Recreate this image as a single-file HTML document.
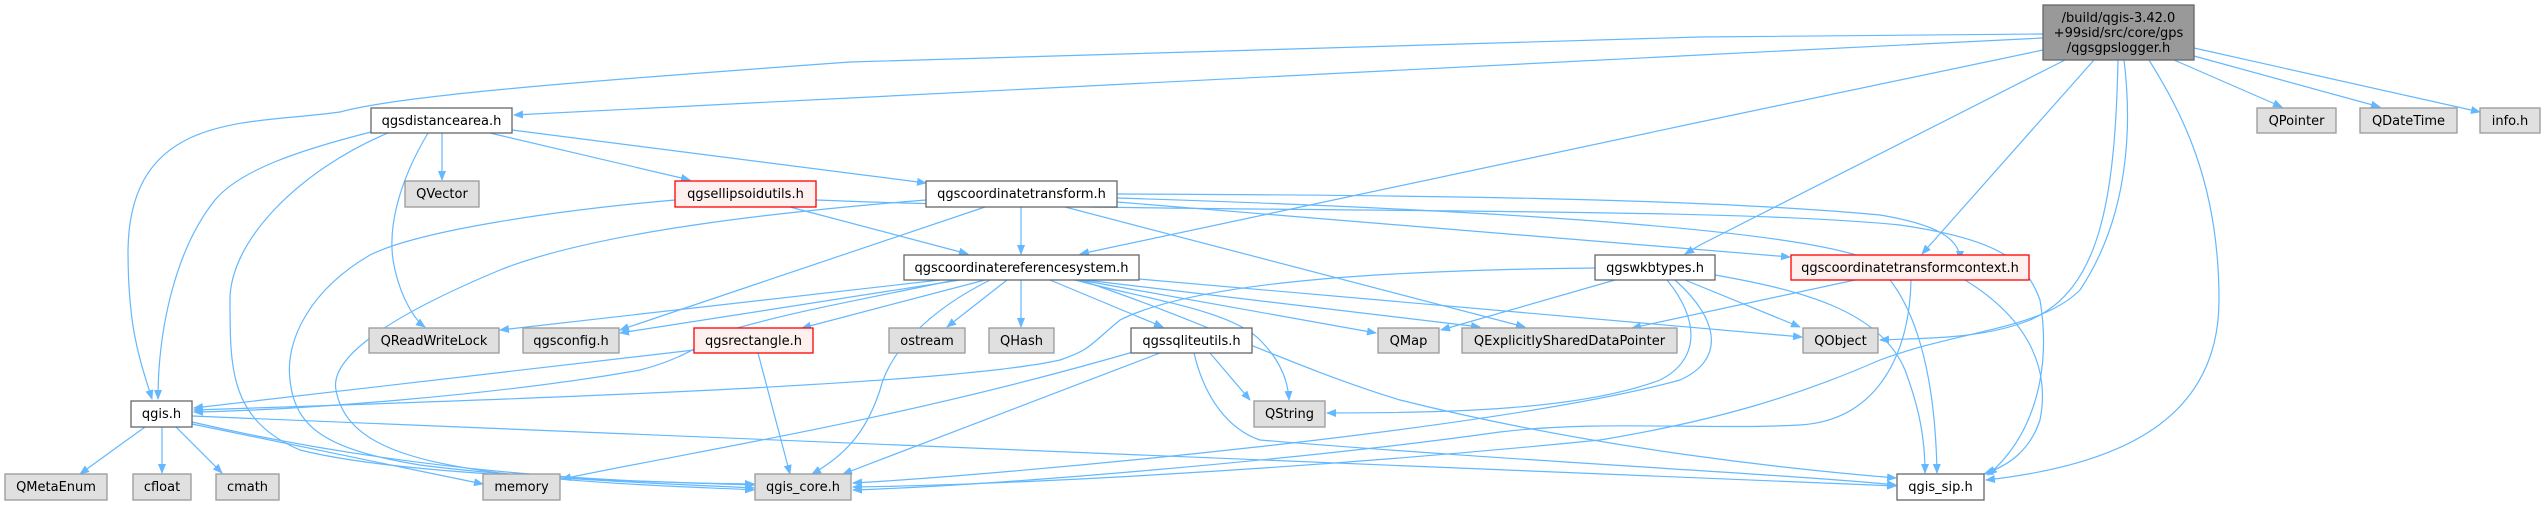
<!DOCTYPE html>
<html><head><meta charset="utf-8"><style>
html,body{margin:0;padding:0;background:#fff;}
svg{display:block;}
text{font-family:"DejaVu Sans","Liberation Sans",sans-serif;font-size:13px;fill:#000;}
.e{fill:none;stroke:#63b8ff;stroke-width:1.2;marker-end:url(#a);}
.w{fill:#fff;stroke:#666;stroke-width:1.3;}
.g{fill:#e0e0e0;stroke:#999;stroke-width:1.3;}
.r{fill:#fff0f0;stroke:#f00;stroke-width:1.3;}
.m{fill:#999;stroke:#666;stroke-width:1.3;}
</style></head><body>
<svg width="2545" height="505" viewBox="0 0 2545 505" xmlns="http://www.w3.org/2000/svg">
<defs><marker id="a" markerWidth="10" markerHeight="8" refX="9" refY="4" orient="auto" markerUnits="userSpaceOnUse"><path d="M0,0 L10,4 L0,8 z" fill="#63b8ff"/></marker></defs>
<g>
<!-- main edges -->
<path class="e" d="M2043,34 L1700,37 L850,62 C600,80 400,95 340,112 C250,125 130,110 128,250 C128,330 140,360 152,399"/>
<path class="e" d="M2043,38 L1700,55 L850,98 L514,115"/>
<path class="e" d="M2043,50 L1700,122 L1080,254"/>
<path class="e" d="M2065,60 L1700,245 L1685,254"/>
<path class="e" d="M2094,60 L1922,254"/>
<path class="e" d="M2118,60 C2115,200 2100,290 2030,320 C1980,340 1920,338 1880,340"/>
<path class="e" d="M2124,60 C2135,150 2120,230 2080,290 C2040,330 1960,330 1880,360 C1800,395 1720,420 1600,440 C1300,470 1000,485 853,487"/>
<path class="e" d="M2149,60 C2180,110 2219,180 2219,300 C2219,420 2120,465 1986,480"/>
<path class="e" d="M2174,60 L2282,107"/>
<path class="e" d="M2194,56 L2380,107"/>
<path class="e" d="M2194,48 L2480,112"/>
<!-- qgsdistancearea -->
<path class="e" d="M442,133 L442,180"/>
<path class="e" d="M490,133 L690,180"/>
<path class="e" d="M512,130 L926,183"/>
<path class="e" d="M428,133 C400,180 385,230 395,270 C402,300 415,320 425,327"/>
<path class="e" d="M371,132 C300,150 240,170 215,200 C175,250 158,330 158,399"/>
<path class="e" d="M388,133 C300,170 230,240 230,300 C230,370 230,420 300,450 C400,475 600,480 754,485"/>
<!-- qgsellipsoidutils -->
<path class="e" d="M790,207 L968,254"/>
<path class="e" d="M675,200 C560,210 420,230 370,255 C310,290 285,340 290,380 C295,430 330,450 420,465 C520,478 650,483 754,488"/>
<path class="e" d="M816,200 C1200,215 1700,205 1900,225 C2000,240 2025,260 2040,300 C2050,360 2040,430 1988,475"/>
<!-- qgscoordinatetransform -->
<path class="e" d="M1021,207 L1021,254"/>
<path class="e" d="M985,207 L620,330"/>
<path class="e" d="M926,200 C800,210 600,230 500,270 C380,320 330,360 336,390 C345,440 400,460 500,473 C600,485 700,487 754,490"/>
<path class="e" d="M1065,207 L1525,327"/>
<path class="e" d="M1117,194 C1400,195 1700,198 1880,215 C1940,225 1960,240 1960,260"/>
<path class="e" d="M1117,202 L1790,257"/>
<path class="e" d="M1117,198 C1500,210 1800,230 1870,260 C1910,290 1935,360 1937,473"/>
<!-- qgscoordinatereferencesystem -->
<path class="e" d="M940,280 L500,330"/>
<path class="e" d="M960,280 L620,333"/>
<path class="e" d="M985,280 L802,328"/>
<path class="e" d="M955,280 C860,300 800,310 730,330 C700,345 680,360 640,370 C500,395 300,410 194,412"/>
<path class="e" d="M990,280 C930,310 890,350 880,390 C870,420 855,450 812,474"/>
<path class="e" d="M1007,280 L947,327"/>
<path class="e" d="M1021,280 L1021,327"/>
<path class="e" d="M1050,280 L1163,327"/>
<path class="e" d="M1075,280 C1150,300 1230,310 1260,340 C1280,360 1288,380 1289,400"/>
<path class="e" d="M1080,280 L1376,333"/>
<path class="e" d="M1085,280 L1480,327"/>
<path class="e" d="M1139,279 L1802,337"/>
<path class="e" d="M1080,280 C1200,320 1300,370 1400,400 C1600,450 1800,470 1896,478"/>
<!-- qgswkbtypes -->
<path class="e" d="M1595,268 C1400,270 1200,280 1120,320 C1090,345 1090,350 1060,360 C950,385 500,400 194,410"/>
<path class="e" d="M1615,280 L1441,330"/>
<path class="e" d="M1667,280 C1700,320 1700,360 1660,380 C1580,410 1450,413 1327,413"/>
<path class="e" d="M1675,280 C1720,320 1725,360 1680,380 C1500,430 1000,475 853,483"/>
<path class="e" d="M1685,280 L1800,327"/>
<path class="e" d="M1715,275 C1800,290 1880,310 1905,370 C1920,410 1925,440 1925,473"/>
<!-- qgscoordinatetransformcontext -->
<path class="e" d="M1855,280 L1632,328"/>
<path class="e" d="M1911,280 C1910,350 1880,420 1800,425 C1700,430 1600,420 1500,432 C1300,460 1000,485 853,490"/>
<path class="e" d="M1965,280 C2030,320 2050,370 2040,420 C2030,450 2010,465 1984,474"/>
<!-- qgsrectangle -->
<path class="e" d="M694,350 L194,408"/>
<path class="e" d="M758,353 L790,474"/>
<!-- qgssqliteutils -->
<path class="e" d="M1210,353 L1250,400"/>
<path class="e" d="M1160,353 L843,474"/>
<path class="e" d="M1140,350 C900,420 700,450 562,479"/>
<path class="e" d="M1194,353 C1205,400 1230,430 1260,440 C1500,460 1800,475 1896,485"/>
<!-- qgis.h -->
<path class="e" d="M145,427 L80,474"/>
<path class="e" d="M162,427 L162,473"/>
<path class="e" d="M176,427 L222,473"/>
<path class="e" d="M192,424 L483,484"/>
<path class="e" d="M192,422 C400,470 600,483 754,484"/>
<path class="e" d="M192,416 L1896,486"/>
</g>
<g>
<rect class="m" x="2043" y="5" width="151" height="55"/>
<text x="2118.5" y="22" text-anchor="middle">/build/qgis-3.42.0</text>
<text x="2118.5" y="37" text-anchor="middle">+99sid/src/core/gps</text>
<text x="2118.5" y="52" text-anchor="middle">/qgsgpslogger.h</text>

<rect class="w" x="371" y="108" width="141" height="25"/><text x="441.5" y="125" text-anchor="middle">qgsdistancearea.h</text>
<rect class="g" x="2257" y="108" width="79" height="25"/><text x="2296.5" y="125" text-anchor="middle">QPointer</text>
<rect class="g" x="2360" y="108" width="97" height="25"/><text x="2408.5" y="125" text-anchor="middle">QDateTime</text>
<rect class="g" x="2480" y="108" width="60" height="25"/><text x="2510" y="125" text-anchor="middle">info.h</text>

<rect class="g" x="405" y="181" width="74" height="26"/><text x="442" y="198" text-anchor="middle">QVector</text>
<rect class="r" x="675" y="181" width="141" height="26"/><text x="745.5" y="198" text-anchor="middle">qgsellipsoidutils.h</text>
<rect class="w" x="926" y="181" width="191" height="26"/><text x="1021.5" y="198" text-anchor="middle">qgscoordinatetransform.h</text>

<rect class="w" x="904" y="255" width="235" height="25"/><text x="1021.5" y="272" text-anchor="middle">qgscoordinatereferencesystem.h</text>
<rect class="w" x="1595" y="255" width="120" height="25"/><text x="1655" y="272" text-anchor="middle">qgswkbtypes.h</text>
<rect class="r" x="1791" y="255" width="238" height="25"/><text x="1910" y="272" text-anchor="middle">qgscoordinatetransformcontext.h</text>

<rect class="g" x="369" y="328" width="130" height="25"/><text x="434" y="345" text-anchor="middle">QReadWriteLock</text>
<rect class="g" x="523" y="328" width="96" height="25"/><text x="571" y="345" text-anchor="middle">qgsconfig.h</text>
<rect class="r" x="694" y="328" width="119" height="25"/><text x="753.5" y="345" text-anchor="middle">qgsrectangle.h</text>
<rect class="g" x="889" y="328" width="76" height="25"/><text x="927" y="345" text-anchor="middle">ostream</text>
<rect class="g" x="989" y="328" width="65" height="25"/><text x="1021.5" y="345" text-anchor="middle">QHash</text>
<rect class="w" x="1131" y="328" width="121" height="25"/><text x="1191.5" y="345" text-anchor="middle">qgssqliteutils.h</text>
<rect class="g" x="1378" y="328" width="61" height="25"/><text x="1408.5" y="345" text-anchor="middle">QMap</text>
<rect class="g" x="1462" y="328" width="215" height="25"/><text x="1569.5" y="345" text-anchor="middle">QExplicitlySharedDataPointer</text>
<rect class="g" x="1803" y="328" width="75" height="25"/><text x="1840.5" y="345" text-anchor="middle">QObject</text>

<rect class="w" x="131" y="401" width="61" height="26"/><text x="161.5" y="418" text-anchor="middle">qgis.h</text>
<rect class="g" x="1254" y="401" width="71" height="26"/><text x="1289.5" y="418" text-anchor="middle">QString</text>

<rect class="g" x="5" y="474" width="102" height="26"/><text x="56" y="491" text-anchor="middle">QMetaEnum</text>
<rect class="g" x="133" y="474" width="58" height="26"/><text x="162" y="491" text-anchor="middle">cfloat</text>
<rect class="g" x="216" y="474" width="63" height="26"/><text x="247.5" y="491" text-anchor="middle">cmath</text>
<rect class="g" x="483" y="474" width="77" height="26"/><text x="521.5" y="491" text-anchor="middle">memory</text>
<rect class="g" x="755" y="474" width="96" height="26"/><text x="803" y="491" text-anchor="middle">qgis_core.h</text>
<rect class="w" x="1897" y="474" width="87" height="26"/><text x="1940.5" y="491" text-anchor="middle">qgis_sip.h</text>
</g>
</svg>
</body></html>
